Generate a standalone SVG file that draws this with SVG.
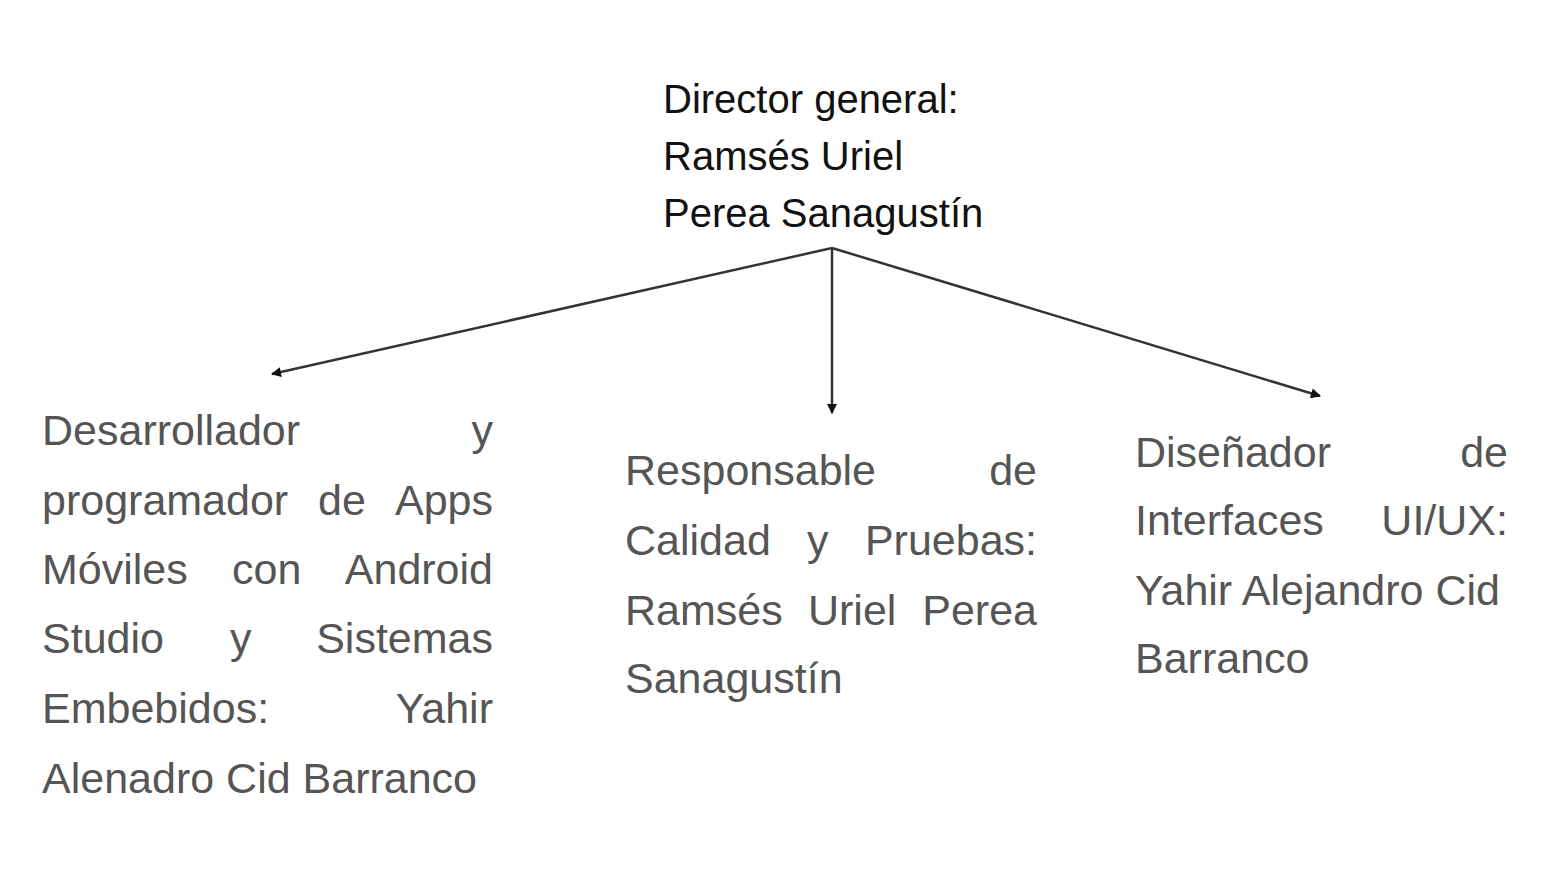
<svg xmlns="http://www.w3.org/2000/svg" width="1550" height="876" viewBox="0 0 1550 876">
  <style>
    .top { font-family: "Liberation Sans", Arial, sans-serif; font-size: 40px; fill: #111; }
    .lbl { font-family: "Liberation Sans", Arial, sans-serif; font-size: 43px; fill: #555; }
    .end { text-anchor: end; }
    .conn { stroke: #333; stroke-width: 2.5; fill: none; marker-end: url(#arr); }
  </style>
  <defs>
    <marker id="arr" viewBox="0 0 10 10" refX="9" refY="5" markerWidth="11" markerHeight="10" markerUnits="userSpaceOnUse" orient="auto">
      <path d="M0,0 L10,5 L0,10 z" fill="#111"/>
    </marker>
  </defs>
  <rect width="1550" height="876" fill="#fff"/>

  <g id="director">
    <text class="top" x="663" y="113">Director general:</text>
    <text class="top" x="663" y="170">Ramsés Uriel</text>
    <text class="top" x="663" y="227">Perea Sanagustín</text>
  </g>

  <g id="connectors">
    <line class="conn" x1="832" y1="248" x2="272" y2="374"/>
    <line class="conn" x1="832" y1="248" x2="832" y2="413"/>
    <line class="conn" x1="832" y1="248" x2="1320" y2="396"/>
  </g>

  <g id="desarrollador">
    <text class="lbl" x="42" y="445">Desarrollador</text>
    <text class="lbl end" x="493" y="445">y</text>
    <text class="lbl" x="42" y="515">programador</text>
    <text class="lbl" x="318" y="515">de</text>
    <text class="lbl end" x="493" y="515">Apps</text>
    <text class="lbl" x="42" y="584">Móviles</text>
    <text class="lbl" x="232" y="584">con</text>
    <text class="lbl end" x="493" y="584">Android</text>
    <text class="lbl" x="42" y="653">Studio</text>
    <text class="lbl" x="230" y="653">y</text>
    <text class="lbl end" x="493" y="653">Sistemas</text>
    <text class="lbl" x="42" y="723">Embebidos:</text>
    <text class="lbl end" x="493" y="723">Yahir</text>
    <text class="lbl" x="42" y="793">Alenadro Cid Barranco</text>
  </g>

  <g id="responsable">
    <text class="lbl" x="625" y="485">Responsable</text>
    <text class="lbl end" x="1037" y="485">de</text>
    <text class="lbl" x="625" y="555">Calidad</text>
    <text class="lbl" x="807" y="555">y</text>
    <text class="lbl end" x="1037" y="555">Pruebas:</text>
    <text class="lbl" x="625" y="625">Ramsés</text>
    <text class="lbl" x="808" y="625">Uriel</text>
    <text class="lbl end" x="1037" y="625">Perea</text>
    <text class="lbl" x="625" y="693">Sanagustín</text>
  </g>

  <g id="disenador">
    <text class="lbl" x="1135" y="467">Diseñador</text>
    <text class="lbl end" x="1508" y="467">de</text>
    <text class="lbl" x="1135" y="535">Interfaces</text>
    <text class="lbl end" x="1508" y="535">UI/UX:</text>
    <text class="lbl" x="1135" y="605">Yahir Alejandro Cid</text>
    <text class="lbl" x="1135" y="673">Barranco</text>
  </g>
</svg>
